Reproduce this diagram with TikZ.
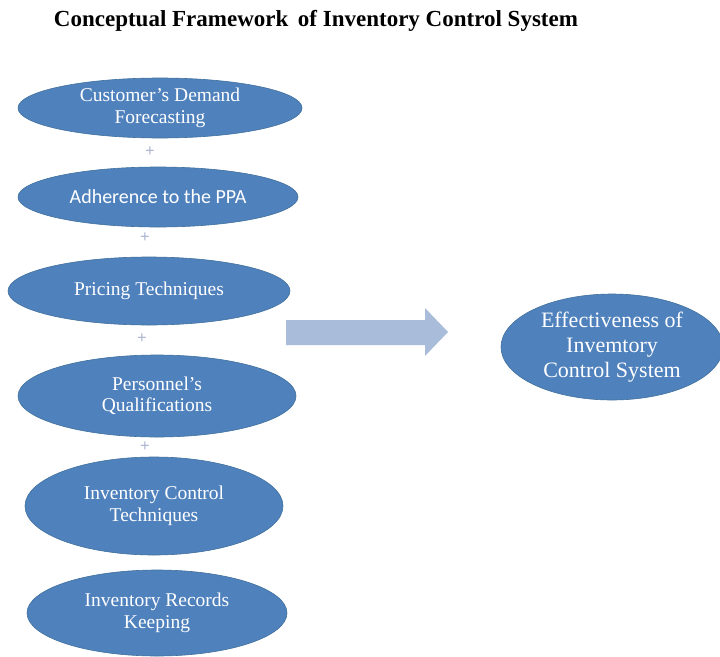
\documentclass[tikz,border=0pt]{standalone}
\usepackage{fontspec}
\setmainfont{Liberation Serif}
\newfontfamily\calibrilike{Carlito}
\usetikzlibrary{shapes.geometric}
\definecolor{ovalblue}{HTML}{4F81BD}
\definecolor{ovalrim}{HTML}{41719C}
\definecolor{blockarrow}{HTML}{A9BCD9}
\definecolor{plusgrey}{HTML}{AEB6D2}
\begin{document}
\begin{tikzpicture}[x=1pt,y=-1pt,
  oval/.style={ellipse, fill=ovalblue, draw=ovalrim, line width=0.6pt,
    inner sep=0pt, text=white, align=center,
    font=\fontsize{19.5}{21.5}\selectfont},
  plus/.style={text=plusgrey, inner sep=0pt, font=\fontsize{17}{17}\selectfont\bfseries}]
\useasboundingbox (0,0) rectangle (720,656);
\fill[white] (0,0) rectangle (720,656);

% title
\node[font=\fontsize{23}{26}\selectfont\bfseries] (title) at (316,21)
  {Conceptual Framework\, of Inventory Control System};

% factor ovals
\node[oval, minimum width=284, minimum height=60] (demand) at (160,108)
  {Customer's Demand\\Forecasting};
\node[oval, minimum width=280, minimum height=60,
      font=\calibrilike\fontsize{20}{22}\selectfont] (ppa) at (158,197)
  {Adherence to the PPA};
\node[oval, minimum width=282, minimum height=68] (pricing) at (149,291)
  {Pricing Techniques};
\node[oval, minimum width=278, minimum height=82] (personnel) at (157,396)
  {Personnel's\\Qualifications};
\node[oval, minimum width=258, minimum height=98] (techniques) at (154,506)
  {Inventory Control\\Techniques};
\node[oval, minimum width=260, minimum height=86] (records) at (157,613)
  {Inventory Records\\Keeping};

% plus signs between the factors
\node[plus] (p1) at (150,152) {+};
\node[plus] (p2) at (145,238) {+};
\node[plus] (p3) at (142,339) {+};
\node[plus] (p4) at (145,447) {+};

% outcome oval
\node[oval, minimum width=222, minimum height=106,
      font=\fontsize{22}{25}\selectfont] (outcome) at (612,347)
  {Effectiveness of\\Invemtory\\Control System};

% block arrow
\fill[blockarrow] (286,320) -- (425,320) -- (425,308) -- (448,332)
  -- (425,356) -- (425,345) -- (286,345) -- cycle;
\end{tikzpicture}
\end{document}
